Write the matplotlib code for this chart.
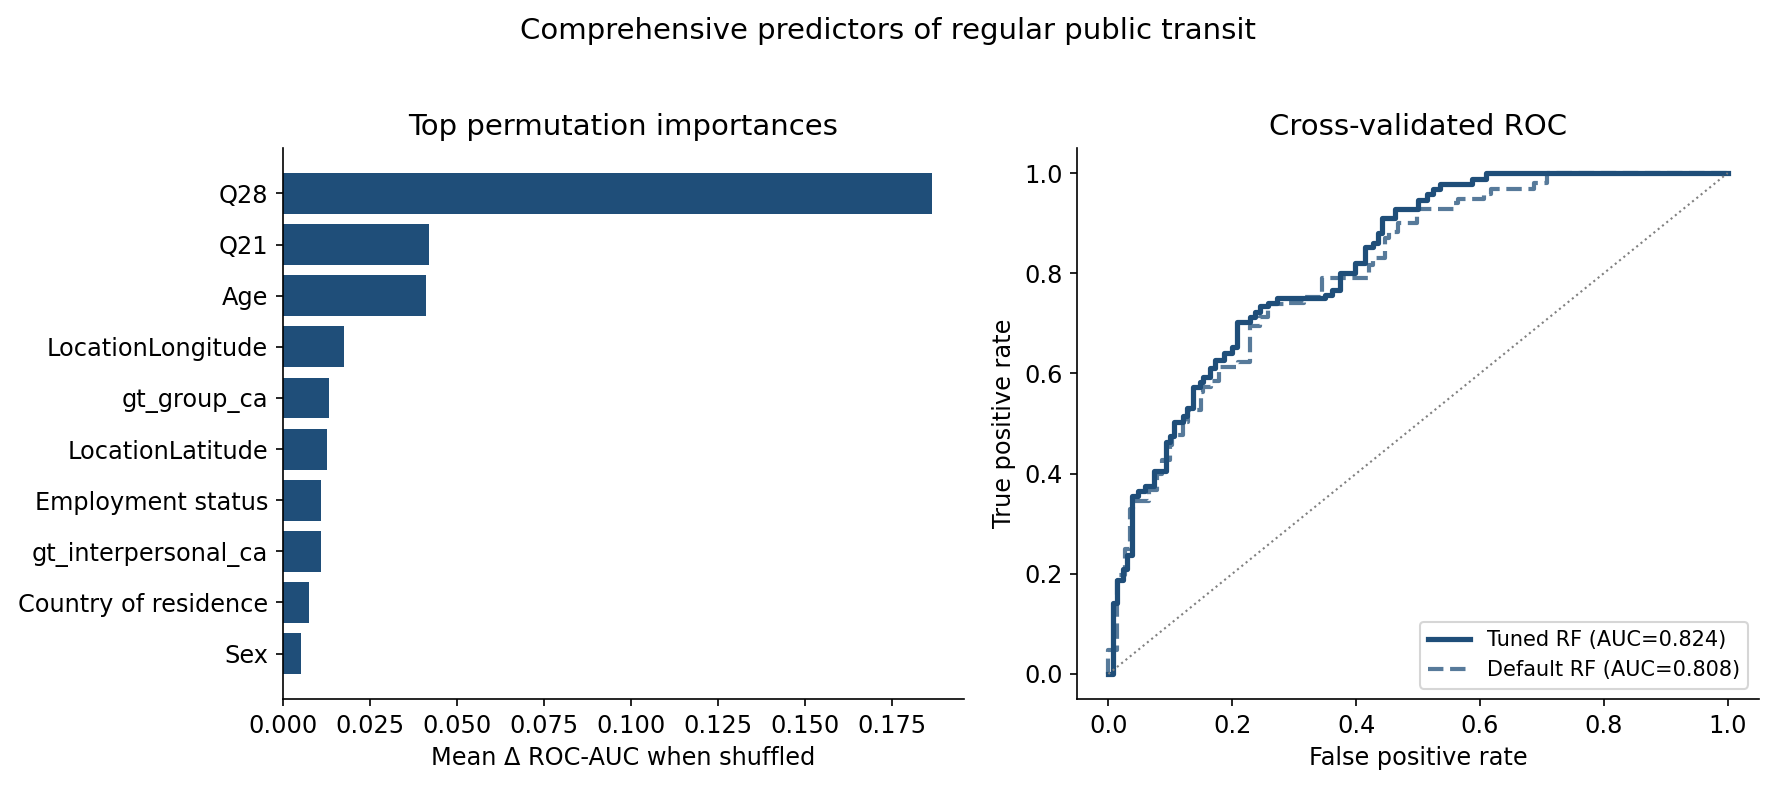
import numpy as np
import matplotlib
matplotlib.use("Agg")
import matplotlib.pyplot as plt

plt.rcParams['font.size'] = 11.5

# permutation importances (top 10)
features = ['Q28', 'Q21', 'Age', 'LocationLongitude', 'gt_group_ca',
            'LocationLatitude', 'Employment status', 'gt_interpersonal_ca',
            'Country of residence', 'Sex']
importances = [0.1865, 0.0420, 0.0412, 0.0176, 0.0133,
               0.0127, 0.0110, 0.0110, 0.0076, 0.0053]

# ROC steps (x where tpr jumps, tpr after the jump)
tuned_fpr = [0, 0.008, 0.0135, 0.024, 0.030, 0.038, 0.048, 0.059, 0.073, 0.093,
             0.100, 0.106, 0.121, 0.127, 0.137, 0.148, 0.153, 0.164, 0.172, 0.186,
             0.199, 0.208, 0.229, 0.237, 0.245, 0.258, 0.272, 0.350, 0.361, 0.374,
             0.399, 0.415, 0.428, 0.436, 0.442, 0.463, 0.500, 0.514, 0.524, 0.535,
             0.587, 0.610, 1.0]
tuned_tpr = [0, 0.141, 0.188, 0.210, 0.237, 0.355, 0.365, 0.376, 0.406, 0.464,
             0.475, 0.504, 0.515, 0.530, 0.573, 0.583, 0.593, 0.610, 0.627, 0.641,
             0.652, 0.703, 0.713, 0.723, 0.735, 0.741, 0.750, 0.756, 0.766, 0.800,
             0.820, 0.853, 0.860, 0.880, 0.910, 0.928, 0.947, 0.958, 0.968, 0.979,
             0.988, 1.0, 1.0]

default_fpr = [0, 0, 0.0135, 0.027, 0.035, 0.040, 0.065, 0.078, 0.086, 0.100,
               0.103, 0.121, 0.129, 0.149, 0.152, 0.166, 0.178, 0.210, 0.229, 0.245,
               0.258, 0.285, 0.316, 0.345, 0.420, 0.428, 0.447, 0.453, 0.468, 0.499,
               0.558, 0.565, 0.606, 0.617, 0.688, 0.708, 1.0]
default_tpr = [0, 0.048, 0.198, 0.250, 0.330, 0.345, 0.367, 0.400, 0.427, 0.457,
               0.477, 0.504, 0.526, 0.563, 0.573, 0.585, 0.613, 0.623, 0.695, 0.713,
               0.739, 0.741, 0.752, 0.791, 0.816, 0.830, 0.870, 0.883, 0.900, 0.928,
               0.940, 0.948, 0.958, 0.968, 0.981, 1.0, 1.0]

tuned_auc = 0.824
default_auc = 0.808

color = '#1f4e79'

fig = plt.figure(figsize=(1775 / 150, 788 / 150), dpi=150)
ax1 = fig.add_axes([0.1592, 0.1129, 0.3839, 0.6993])
ax2 = fig.add_axes([0.607, 0.1129, 0.3838, 0.6993])

# left: bar chart
ypos = np.arange(len(features))
ax1.barh(ypos, importances, color=color, height=0.8)
ax1.set_yticks(ypos)
ax1.set_yticklabels(features)
ax1.invert_yaxis()
ax1.set_xlabel('Mean Δ ROC-AUC when shuffled')
ax1.set_title('Top permutation importances', fontsize=14)
ax1.spines['top'].set_visible(False)
ax1.spines['right'].set_visible(False)

# right: ROC
ax2.step(tuned_fpr, tuned_tpr, where='post', color=color, lw=2.5,
         label=f'Tuned RF (AUC={tuned_auc:.3f})')
ax2.step(default_fpr, default_tpr, where='post', color=color, lw=2, ls='--',
         alpha=0.75, label=f'Default RF (AUC={default_auc:.3f})')
ax2.plot([0, 1], [0, 1], ls=':', color='gray', lw=1)
ax2.set_xlabel('False positive rate')
ax2.set_ylabel('True positive rate')
ax2.set_title('Cross-validated ROC', fontsize=14)
ax2.legend(loc='lower right', fontsize=10)
ax2.spines['top'].set_visible(False)
ax2.spines['right'].set_visible(False)

fig.suptitle('Comprehensive predictors of regular public transit', y=0.978, fontsize=14)

fig.savefig('out.png', dpi=150)
